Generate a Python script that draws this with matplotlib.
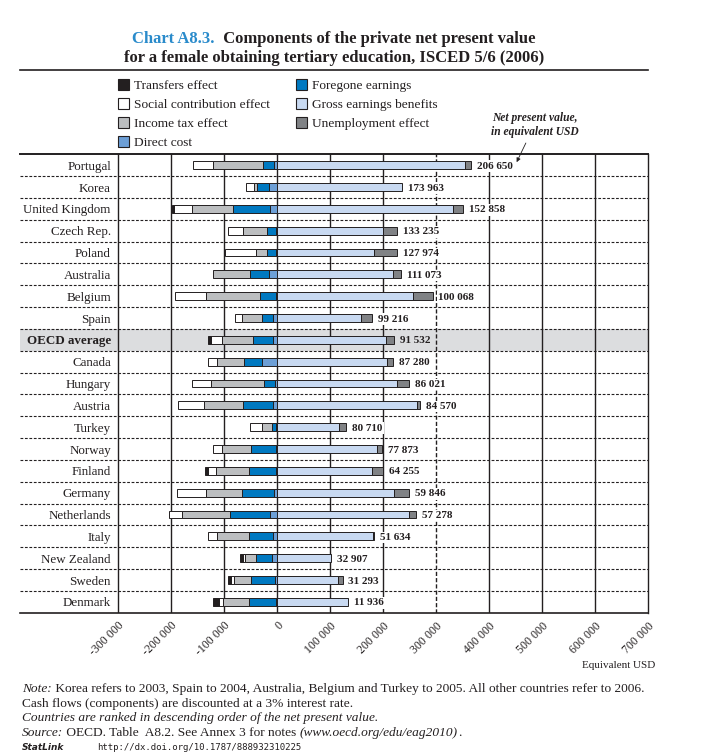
import matplotlib
matplotlib.use("Agg")
import matplotlib.pyplot as plt
from matplotlib.patches import Rectangle
import numpy as np

# ---------------- data (values in USD thousands) ----------------
countries = ["Portugal", "Korea", "United Kingdom", "Czech Rep.", "Poland", "Australia",
             "Belgium", "Spain", "OECD average", "Canada", "Hungary", "Austria", "Turkey",
             "Norway", "Finland", "Germany", "Netherlands", "Italy", "New Zealand",
             "Sweden", "Denmark"]
transfers = [0, 0, 5.0, 0, 0, 0, 0, 0, 5.0, 0, 0, 0, 0, 0, 4.4, 0, 0, 0, 5.0, 5.0, 10.7]
social = [37.7, 16.4, 34.0, 28.3, 58.5, 0, 57.2, 12.0, 21.4, 17.0, 35.9, 49.1, 21.4, 17.0,
          15.1, 54.7, 25.8, 17.0, 3.1, 5.0, 8.2]
income_tax = [94.4, 5.7, 77.4, 45.3, 20.8, 71.1, 103.2, 37.7, 58.5, 52.2, 100.0, 73.6, 20.1,
              53.5, 63.5, 69.2, 90.6, 61.6, 20.8, 33.3, 49.1]
foregone = [20.8, 22.6, 69.8, 17.0, 15.7, 35.9, 30.2, 22.0, 37.7, 32.7, 22.0, 56.6, 6.9,
            48.4, 51.6, 60.4, 75.5, 45.3, 31.5, 45.3, 51.6]
direct_cost = [5.7, 15.1, 13.2, 1.9, 3.1, 15.1, 1.9, 7.5, 7.5, 29.6, 3.8, 7.5, 2.5, 1.9, 1.3,
               5.7, 13.2, 7.5, 9.4, 3.8, 1.3]
gross = [355.4, 235.9, 332.8, 200.0, 183.7, 219.5, 256.7, 157.3, 205.7, 208.2, 227.1, 264.2,
         117.0, 189.3, 179.3, 220.8, 249.7, 180.0, 101.9, 115.1, 134.6]
unemployment = [11.3, 0, 18.9, 27.0, 43.4, 14.5, 36.5, 22.6, 14.5, 10.7, 22.6, 5.7, 13.8,
                9.4, 20.8, 28.9, 13.2, 3.1, 0, 8.2, 0]
net_labels = ["206 650", "173 963", "152 858", "133 235", "127 974", "111 073", "100 068",
              "99 216", "91 532", "87 280", "86 021", "84 570", "80 710", "77 873", "64 255",
              "59 846", "57 278", "51 634", "32 907", "31 293", "11 936"]
xticks = [-300000, -200000, -100000, 0, 100000, 200000, 300000, 400000, 500000, 600000, 700000]
xtick_labels = ["-300 000", "-200 000", "-100 000", "0", "100 000", "200 000", "300 000",
                "400 000", "500 000", "600 000", "700 000"]

legend_names = ["Transfers effect", "Social contribution effect", "Income tax effect",
                "Direct cost", "Foregone earnings", "Gross earnings benefits",
                "Unemployment effect"]

# ---------------- styles ----------------
C_TRANS = "#231f20"
C_SOC = "#ffffff"
C_TAX = "#bcbec0"
C_DIR = "#6d9fd6"
C_FOR = "#0079c1"
C_GROSS = "#c8d9f1"
C_UNEMP = "#808285"
C_TXT = "#231f20"
C_ROWBG = "#dcdddf"
SERIF = ["Liberation Serif", "DejaVu Serif"]

W, H = 702, 754
fig = plt.figure(figsize=(W / 100, H / 100), dpi=100)
fig.patch.set_facecolor("white")
renderer = fig.canvas.get_renderer()


def fx(px):
    return px / W


def fy(py):
    return 1 - py / H


top_px, bot_px = 154.3, 612.8
ax = fig.add_axes([fx(20), fy(bot_px), (648 - 20) / W, (bot_px - top_px) / H])
n = len(countries)
y = np.arange(n)
ax.set_xlim(-485500, 700000)
ax.set_ylim(n - 0.5, -0.5)

# OECD row background
oecd_idx = countries.index("OECD average")
ax.axhspan(oecd_idx - 0.5, oecd_idx + 0.5, color=C_ROWBG, zorder=0, lw=0)

# vertical grid lines
for t in xticks[:-1]:
    ls = (0, (3, 1.5)) if t == 300000 else "-"
    ax.axvline(t, color=C_TXT, lw=1.0, ls=ls, zorder=1)
# row separators
for k in range(1, n):
    ax.axhline(k - 0.5, color=C_TXT, lw=0.8, ls=(0, (2.5, 1.5)), zorder=1)

ax.spines["left"].set_visible(False)
ax.spines["top"].set_linewidth(1.4)
ax.spines["bottom"].set_linewidth(1.2)
ax.spines["right"].set_linewidth(1.0)
for s in ["top", "bottom", "right"]:
    ax.spines[s].set_color(C_TXT)

# bars
k = 1000.0
bh = 0.36
ekw = dict(edgecolor=C_TXT, linewidth=0.7, zorder=3, height=bh)
dir_a = np.array(direct_cost) * k
for_a = np.array(foregone) * k
tax_a = np.array(income_tax) * k
soc_a = np.array(social) * k
tr_a = np.array(transfers) * k
gr_a = np.array(gross) * k
un_a = np.array(unemployment) * k

left = np.zeros(n)
segs = [(dir_a, C_DIR), (for_a, C_FOR), (tax_a, C_TAX), (soc_a, C_SOC), (tr_a, C_TRANS)]
for vals, col in segs:
    mask = vals > 0
    ax.barh(y[mask], -vals[mask], left=left[mask], color=col, **ekw)
    left = left - vals
m = gr_a > 0
ax.barh(y[m], gr_a[m], left=0, color=C_GROSS, **ekw)
m = un_a > 0
ax.barh(y[m], un_a[m], left=gr_a[m], color=C_UNEMP, **ekw)

pos_end = gr_a + un_a
for i in range(n):
    bg = C_ROWBG if i == oecd_idx else "white"
    ax.text(pos_end[i] + 11000, y[i], net_labels[i], ha="left", va="center_baseline",
            fontsize=8, fontweight="bold", family=SERIF, color=C_TXT, zorder=4,
            bbox=dict(facecolor=bg, edgecolor="none", pad=1.0))
    ax.text(-314000, y[i], countries[i], ha="right", va="center_baseline", fontsize=9.4,
            family=SERIF, color=C_TXT,
            fontweight="bold" if i == oecd_idx else "normal")

# x ticks
ax.set_yticks([])
ax.set_xticks(xticks)
ax.set_xticklabels(xtick_labels, fontsize=8.5, family=SERIF, color=C_TXT)
ax.tick_params(axis="x", length=0, pad=5)
for lbl in ax.get_xticklabels():
    lbl.set_rotation(45)
    lbl.set_ha("right")
    lbl.set_va("top")
    lbl.set_rotation_mode("anchor")

fig.text(fx(655), fy(664), "Equivalent USD", ha="right", va="center_baseline", fontsize=8,
         family=SERIF, color=C_TXT)

# annotation
ax.annotate("Net present value,\nin equivalent USD", xy=(452000, -0.14),
            xytext=(486000, -1.85), textcoords="data", ha="center", va="center",
            fontsize=8.3, fontweight="bold", fontstyle="italic", family=SERIF,
            color=C_TXT, linespacing=1.2, annotation_clip=False,
            arrowprops=dict(arrowstyle="-|>", color=C_TXT, lw=0.6, shrinkA=2,
                            shrinkB=0, mutation_scale=6))

# legend (manual swatches)
leg_cols = [C_TRANS, C_SOC, C_TAX, C_DIR, C_FOR, C_GROSS, C_UNEMP]
pos = [(118, 0), (118, 1), (118, 2), (118, 3), (296, 0), (296, 1), (296, 2)]
for (xp, r), name, col in zip(pos, legend_names, leg_cols):
    yc = 84.5 + 19 * r
    fig.add_artist(Rectangle((fx(xp), fy(yc + 5.5)), 11 / W, 11 / H, transform=fig.transFigure,
                             facecolor=col, edgecolor=C_TXT, lw=0.8))
    fig.text(fx(xp + 15.5), fy(yc), name, ha="left", va="center_baseline", fontsize=9.6,
             family=SERIF, color=C_TXT)


# helper for mixed-style lines (y_px is the text baseline)
def rich_line(x_px, y_px, pieces, size, center=False):
    arts = []
    total = 0
    for txt, kw in pieces:
        t = fig.text(0, 0, txt, fontsize=size, **kw)
        bb = t.get_window_extent(renderer)
        arts.append((t, bb.width))
        total += bb.width
    x = x_px - total / 2 if center else x_px
    for t, w in arts:
        t.set_position((fx(x), fy(y_px)))
        t.set_va("baseline")
        t.set_ha("left")
        x += w
    return total


# title
tb = dict(family=SERIF, fontweight="bold", color=C_TXT)
rich_line(334, 43, [("Chart A8.3.", dict(family=SERIF, fontweight="bold", color="#2a8bcb")),
                    ("  Components of the private net present value", tb)], 12, center=True)
rich_line(334, 62, [("for a female obtaining tertiary education, ISCED 5/6 (2006)", tb)], 12,
          center=True)
fig.add_artist(plt.Line2D([fx(20), fx(648)], [fy(69.7), fy(69.7)], color=C_TXT, lw=1.2,
                          transform=fig.transFigure))

# footnotes
nr = dict(family=SERIF, color=C_TXT)
it = dict(family=SERIF, color=C_TXT, fontstyle="italic")
fs = 9.6
rich_line(22, 692, [("Note:", it), (" Korea refers to 2003, Spain to 2004, Australia, Belgium and "
                                     "Turkey to 2005. All other countries refer to 2006.", nr)], fs)
rich_line(22, 707, [("Cash flows (components) are discounted at a 3% interest rate.", nr)], fs)
rich_line(22, 721.5, [("Countries are ranked in descending order of the net present value.", it)], fs)
rich_line(22, 736, [("Source:", it), (" OECD. Table  A8.2. See Annex 3 for notes ", nr),
                    ("(www.oecd.org/edu/eag2010)", it), (".", nr)], fs)
rich_line(22, 749.5, [("StatLink", dict(family=["DejaVu Sans"], fontweight="bold",
                                       fontstyle="italic", color=C_TXT)),
                      ("      ", dict(family=["DejaVu Sans Mono"], color=C_TXT)),
                      ("http://dx.doi.org/10.1787/888932310225",
                       dict(family=["DejaVu Sans Mono"], color=C_TXT))], 6.5)

fig.savefig("out.png", dpi=100, facecolor="white")
